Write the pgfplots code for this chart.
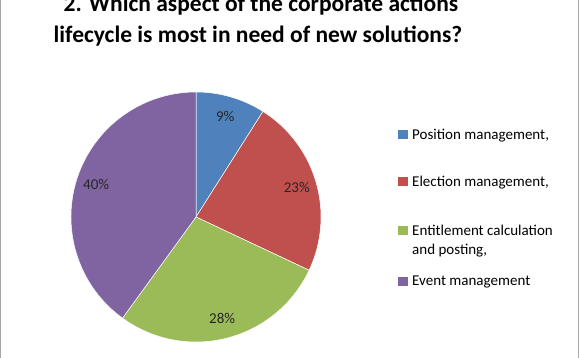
\documentclass[border=0pt]{standalone}
\usepackage{pgfplots}
\usepackage{pgfplotstable}
\pgfplotsset{compat=1.18}
\usetikzlibrary{calc}
\usepackage{fontspec}
\setmainfont{Carlito}
\definecolor{cblue}{HTML}{4F81BD}
\definecolor{cred}{HTML}{C0504D}
\definecolor{cgreen}{HTML}{9BBB59}
\definecolor{cpurple}{HTML}{8064A2}
\pgfplotstableread{
label value
Position 9
Election 23
Entitlement 28
Event 40
}\piedata
% compute slice angles (clockwise from 90 degrees)
\pgfplotstablegetelem{0}{value}\of\piedata \edef\vA{\pgfplotsretval}
\pgfplotstablegetelem{1}{value}\of\piedata \edef\vB{\pgfplotsretval}
\pgfplotstablegetelem{2}{value}\of\piedata \edef\vC{\pgfplotsretval}
\pgfplotstablegetelem{3}{value}\of\piedata \edef\vD{\pgfplotsretval}
\pgfmathsetmacro\tot{\vA+\vB+\vC+\vD}
\pgfmathsetmacro\aA{90}
\pgfmathsetmacro\aB{\aA-360*\vA/\tot}
\pgfmathsetmacro\aC{\aB-360*\vB/\tot}
\pgfmathsetmacro\aD{\aC-360*\vC/\tot}
\pgfmathsetmacro\aE{\aD-360*\vD/\tot}
\pgfmathsetmacro\mA{(\aA+\aB)/2}
\pgfmathsetmacro\mB{(\aB+\aC)/2}
\pgfmathsetmacro\mC{(\aC+\aD)/2}
\pgfmathsetmacro\mD{(\aD+\aE)/2}
\begin{document}
\begin{tikzpicture}
\begin{axis}[
  width=580bp, height=358bp, scale only axis,
  xmin=0, xmax=580, ymin=0, ymax=358,
  hide axis, clip=false,
]
\def\cx{196}\def\cy{141}\def\R{125bp}\def\L{105bp}
\fill[white] (axis cs:0,0) rectangle (axis cs:580,358);
\draw[gray!70, line width=1.2bp] (axis cs:0.6,0) -- (axis cs:0.6,358);
\draw[gray!70, line width=1.2bp] (axis cs:578.5,0) -- (axis cs:578.5,358);
\filldraw[fill=cblue, draw=white, line width=0.5bp] (axis cs:\cx,\cy) -- ++(\aA:\R) arc[start angle=\aA, end angle=\aB, radius=\R] -- cycle;
\filldraw[fill=cred, draw=white, line width=0.5bp] (axis cs:\cx,\cy) -- ++(\aB:\R) arc[start angle=\aB, end angle=\aC, radius=\R] -- cycle;
\filldraw[fill=cgreen, draw=white, line width=0.5bp] (axis cs:\cx,\cy) -- ++(\aC:\R) arc[start angle=\aC, end angle=\aD, radius=\R] -- cycle;
\filldraw[fill=cpurple, draw=white, line width=0.5bp] (axis cs:\cx,\cy) -- ++(\aD:\R) arc[start angle=\aD, end angle=\aE, radius=\R] -- cycle;
\begin{scope}[every node/.style={font=\fontsize{15bp}{18bp}\selectfont, text=black!85}]
\node at ($(axis cs:\cx,\cy)+(\mA:\L)$) {\vA\%};
\node at ($(axis cs:\cx,\cy)+(\mB:\L)$) {\vB\%};
\node at ($(axis cs:\cx,\cy)+(\mC:\L)$) {\vC\%};
\node at ($(axis cs:\cx,\cy)+(\mD:\L)$) {\vD\%};
\end{scope}
% title
\node[font=\fontsize{23.5bp}{28bp}\selectfont\bfseries, anchor=base, inner sep=0pt] at (axis cs:261,346) {2. Which aspect of the corporate actions};
\node[font=\fontsize{23.5bp}{28bp}\selectfont\bfseries, anchor=base, inner sep=0pt] at (axis cs:258,315) {lifecycle is most in need of new solutions?};
% legend
\fill[cblue] (axis cs:398,219) rectangle (axis cs:408,228);
\fill[cred] (axis cs:398,172) rectangle (axis cs:408,181);
\fill[cgreen] (axis cs:398,123) rectangle (axis cs:408,132);
\fill[cpurple] (axis cs:398,72) rectangle (axis cs:408,81);
\begin{scope}[every node/.style={font=\fontsize{15bp}{18bp}\selectfont, anchor=base west, inner sep=0pt}]
\node at (axis cs:412,218) {Position management,};
\node at (axis cs:412,171) {Election management,};
\node at (axis cs:412,122) {Entitlement calculation};
\node at (axis cs:412,103) {and posting,};
\node at (axis cs:412,72) {Event management};
\end{scope}
\end{axis}
\pgfresetboundingbox
\path[use as bounding box] (0,0) rectangle (580bp,358bp);
\end{tikzpicture}
\end{document}
